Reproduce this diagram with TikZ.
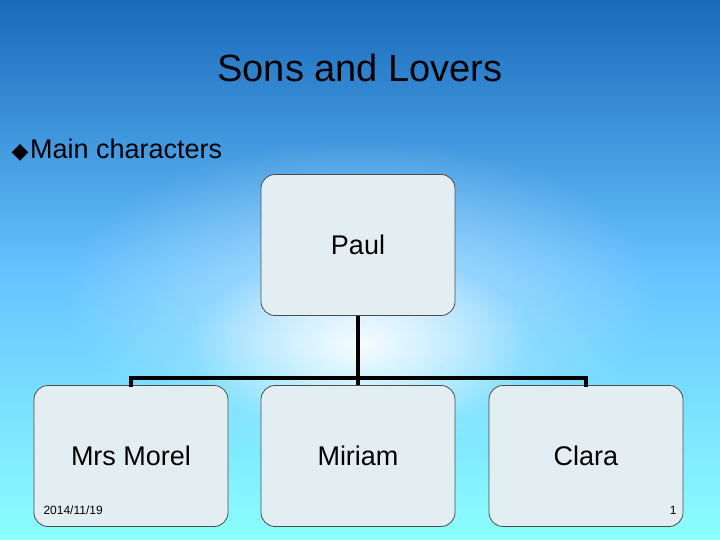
\documentclass[tikz,border=0pt]{standalone}
\usepackage{fontspec}
\setmainfont{Liberation Sans}
\newfontfamily\dejavufam{DejaVu Sans}
\usetikzlibrary{fadings}
\tikzfading[name=myglow, inner color=transparent!0, outer color=transparent!100]
\begin{document}
\begin{tikzpicture}[x=1pt,y=-1pt,
  box/.style={draw=black!70,line width=0.8pt,fill=cyan!10!teal!12!white,rounded corners=14pt,minimum width=194pt,minimum height=141pt,font=\fontsize{27}{30}\selectfont,inner sep=0pt},
  conn/.style={line width=3.5pt}]
\useasboundingbox (0,0) rectangle (720,540);
\shade[top color=blue!50!cyan!70!black!90, bottom color=cyan!45!white, middle color=cyan!60!blue!60] (0,0) rectangle (720,540);
\fill[white,path fading=myglow,opacity=0.9] (360,345) ellipse (170 and 90);
\fill[white,path fading=myglow,opacity=0.5] (360,300) ellipse (300 and 160);
\node (title) at (360,68) {\fontsize{38}{42}\selectfont Sons and Lovers};
\node[anchor=west] (sub) at (8,150) {{\dejavufam\fontsize{22}{26}\selectfont ◆}\,\fontsize{27}{30}\selectfont Main characters};
\node[box] (paul) at (358,245) {Paul};
\node[box] (morel) at (131,456) {Mrs Morel};
\node[box] (miriam) at (358,456) {Miriam};
\node[box] (clara) at (586,456) {Clara};
\coordinate (j) at (358,378);
\draw[conn] (paul.south) -- (j);
\draw[conn,line cap=rect] (morel.north) -- (morel.north |- j) -- (clara.north |- j) -- (clara.north);
\draw[conn] (j) -- (miriam.north);
\node[anchor=west,font=\fontsize{12}{14}\selectfont] (date) at (40,510) {2014/11/19};
\node[anchor=east,font=\fontsize{12}{14}\selectfont] (pg) at (680,510) {1};
\end{tikzpicture}
\end{document}
